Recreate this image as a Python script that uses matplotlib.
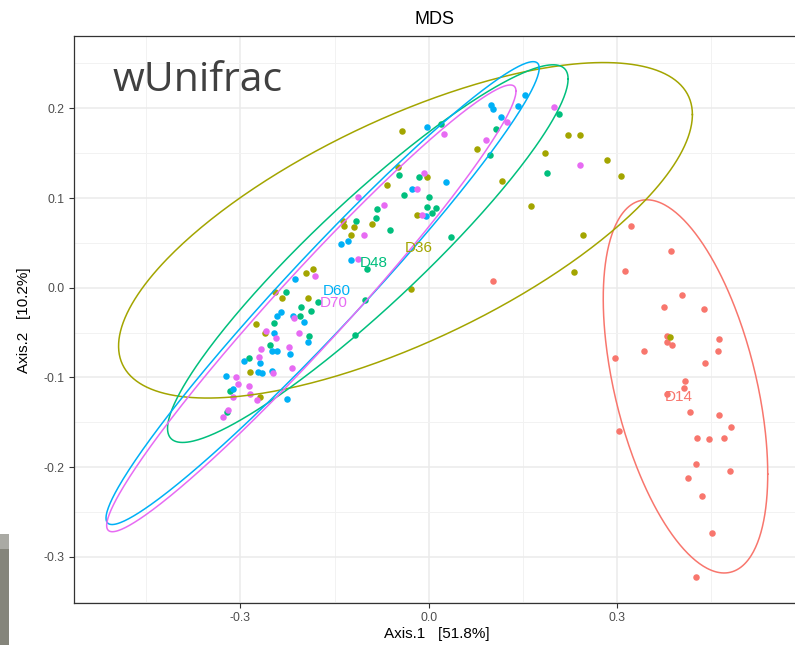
import numpy as np
import matplotlib
matplotlib.use("Agg")
import matplotlib.pyplot as plt
from matplotlib.patches import Rectangle

plt.rcParams['font.family'] = ['Liberation Sans', 'DejaVu Sans']

groups = ["D14", "D36", "D48", "D60", "D70"]
colors = ["#F8766D", "#A3A500", "#00BF7D", "#00B0F6", "#E76BF3"]

d14_x = [0.322, 0.386, 0.313, 0.403, 0.375, 0.439, 0.379, 0.380, 0.388, 0.343, 0.463, 0.460, 0.297, 0.440,
         0.408, 0.406, 0.379, 0.416, 0.462, 0.481, 0.303, 0.427, 0.447, 0.471, 0.425, 0.480, 0.413, 0.435,
         0.452, 0.426, 0.102]
d14_y = [0.069, 0.041, 0.019, -0.008, -0.021, -0.024, -0.054, -0.061, -0.064, -0.070, -0.057, -0.071, -0.078, -0.084,
         -0.104, -0.112, -0.118, -0.138, -0.142, -0.155, -0.160, -0.168, -0.169, -0.167, -0.197, -0.204, -0.212, -0.232,
         -0.273, -0.323, 0.007]

d36_x = [0.384, 0.222, 0.241, 0.077, 0.186, 0.284, 0.306, 0.117, 0.163, 0.245, 0.231, -0.042, -0.003, -0.049,
         -0.067, -0.019, -0.028, -0.136, -0.135, -0.119, -0.091, -0.124, -0.195, -0.184, -0.245, -0.233, -0.192,
         -0.275, -0.260, -0.285, -0.268]
d36_y = [-0.055, 0.170, 0.170, 0.155, 0.150, 0.142, 0.124, 0.119, 0.091, 0.059, 0.017, 0.175, 0.123, 0.135,
         0.115, 0.081, -0.001, 0.074, 0.069, 0.068, 0.071, 0.059, 0.016, 0.021, -0.005, -0.011, -0.012,
         -0.041, -0.050, -0.094, -0.122]

d48_x = [0.207, 0.107, 0.097, 0.189, 0.036, 0.019, -0.016, -0.047, -0.039, 0.000, -0.002, 0.012, 0.006, -0.083,
         -0.084, -0.116, -0.062, -0.099, -0.102, -0.117, -0.227, -0.176, -0.203, -0.188, -0.205, -0.247, -0.191,
         -0.253, -0.287, -0.317, -0.322]
d48_y = [0.194, 0.177, 0.148, 0.128, 0.057, 0.183, 0.123, 0.126, 0.103, 0.101, 0.090, 0.089, 0.083, 0.088,
         0.078, 0.074, 0.064, 0.021, -0.014, -0.053, -0.005, -0.016, -0.022, -0.026, -0.031, -0.039, -0.054,
         -0.064, -0.078, -0.115, -0.139]

d60_x = [0.153, 0.100, 0.102, 0.142, 0.115, -0.003, 0.027, -0.026, -0.005, -0.140, -0.129, -0.124, -0.213,
         -0.235, -0.241, -0.198, -0.216, -0.246, -0.192, -0.250, -0.241, -0.221, -0.294, -0.268, -0.272, -0.266,
         -0.250, -0.323, -0.311, -0.226]
d60_y = [0.215, 0.204, 0.199, 0.203, 0.190, 0.179, 0.118, 0.110, 0.080, 0.049, 0.052, 0.031, 0.010,
         -0.027, -0.032, -0.038, -0.031, -0.051, -0.060, -0.070, -0.070, -0.074, -0.082, -0.084, -0.094, -0.095,
         -0.093, -0.098, -0.113, -0.124]

d70_x = [0.199, 0.125, 0.091, 0.241, 0.025, -0.007, -0.018, -0.010, -0.112, -0.072, -0.103, -0.113, -0.181,
         -0.215, -0.259, -0.206, -0.244, -0.267, -0.223, -0.271, -0.217, -0.248, -0.307, -0.303, -0.287, -0.284,
         -0.312, -0.273, -0.319, -0.328]
d70_y = [0.202, 0.185, 0.165, 0.137, 0.171, 0.128, 0.110, 0.081, 0.101, 0.092, 0.059, 0.032, 0.013,
         -0.034, -0.048, -0.051, -0.056, -0.068, -0.066, -0.077, -0.089, -0.095, -0.100, -0.107, -0.110, -0.118,
         -0.122, -0.125, -0.136, -0.144]

# 95% ellipses: centre, half-extent in x and y, correlation-like shape term
ell_cx = [0.409, -0.037, -0.097, -0.169, -0.187]
ell_cy = [-0.110, 0.064, 0.038, -0.006, -0.023]
ell_rx = [0.131, 0.457, 0.319, 0.345, 0.326]
ell_ry = [0.208, 0.187, 0.2105, 0.258, 0.249]
ell_rho = [-0.47, 0.69, 0.925, 0.972, 0.972]

# group label positions (centroids)
lab_x = [0.398, -0.016, -0.088, -0.146, -0.152]
lab_y = [-0.122, 0.044, 0.027, -0.004, -0.017]

xs = [d14_x, d36_x, d48_x, d60_x, d70_x]
ys = [d14_y, d36_y, d48_y, d60_y, d70_y]

W, H = 795, 645
fig = plt.figure(figsize=(W / 100, H / 100), dpi=100)
ax = fig.add_axes([74 / W, 1 - 603.3 / H, (800 - 74) / W, (603.3 - 36) / H])

ax.set_xlim(-0.565, 0.5914)
ax.set_ylim(-0.3518, 0.2806)

ax.set_xticks([-0.3, 0.0, 0.3])
ax.set_xticklabels(["-0.3", "0.0", "0.3"])
ax.set_yticks([-0.3, -0.2, -0.1, 0.0, 0.1, 0.2])
ax.set_yticklabels(["-0.3", "-0.2", "-0.1", "0.0", "0.1", "0.2"])
ax.set_xticks([-0.45, -0.15, 0.15, 0.45], minor=True)
ax.set_yticks([-0.35, -0.25, -0.15, -0.05, 0.05, 0.15, 0.25], minor=True)
ax.grid(which='major', color='#EBEBEB', linewidth=1.1)
ax.grid(which='minor', color='#F2F2F2', linewidth=0.7)
ax.set_axisbelow(True)
ax.tick_params(which='major', length=3.5, width=0.8, color='#333333', labelsize=8.8,
               labelcolor='#4D4D4D', pad=3)
ax.tick_params(which='minor', length=0)
for s in ax.spines.values():
    s.set_color('#333333')
    s.set_linewidth(0.9)

for i, g in enumerate(groups):
    ax.scatter(xs[i], ys[i], s=22, color=colors[i], linewidths=0, zorder=3)

t = np.linspace(0, 2 * np.pi, 400)
for i, g in enumerate(groups):
    phi = np.arccos(ell_rho[i])
    ex = ell_cx[i] + ell_rx[i] * np.cos(t)
    ey = ell_cy[i] + ell_ry[i] * np.cos(t - phi)
    ax.plot(ex, ey, color=colors[i], linewidth=1.1, zorder=4)

for i, g in enumerate(groups):
    ax.text(lab_x[i], lab_y[i], g, color=colors[i], fontsize=11, ha='center', va='center', zorder=5)

fig.text(434.7 / W, 1 - 19.5 / H, "MDS", fontsize=13, ha='center', va='center', color='black')
fig.text(437 / W, 1 - 634 / H, "Axis.1   [51.8%]", fontsize=11, ha='center', va='center', color='black')
fig.text(24 / W, 1 - 320 / H, "Axis.2   [10.2%]", fontsize=11, ha='center', va='center',
         rotation=90, color='black')

fig.text(113 / W, 1 - 91 / H, "wUnifrac", fontsize=29.5, family=['Open Sans', 'DejaVu Sans'],
         ha='left', va='baseline', color='#404040')

fig.patches.append(Rectangle((0, 0), 9 / W, (645 - 549) / H, transform=fig.transFigure,
                             facecolor='#85857B', edgecolor='none'))
fig.patches.append(Rectangle((0, (645 - 549) / H), 9 / W, 15 / H, transform=fig.transFigure,
                             facecolor='#AAAAA4', edgecolor='none'))

fig.savefig("out.png", dpi=100)
